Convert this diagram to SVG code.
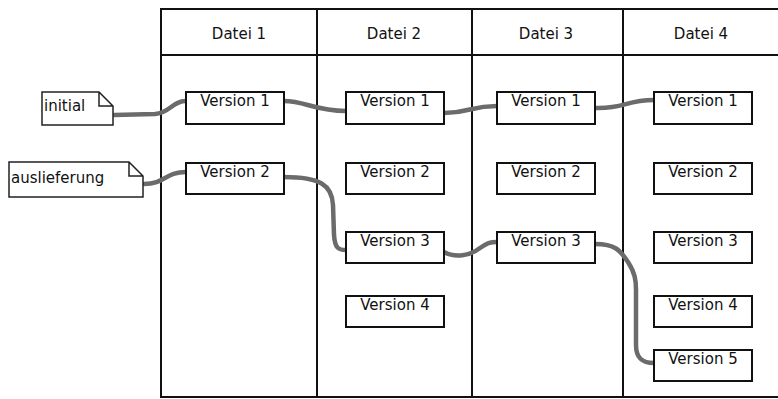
<svg xmlns="http://www.w3.org/2000/svg" width="778" height="399" viewBox="0 0 778 399">
<style>
.grid{fill:none;stroke:#111;stroke-width:2}
.box{fill:#fff;stroke:#111;stroke-width:2}
.note{fill:#fff;stroke:#222;stroke-width:1.5;stroke-linejoin:miter}
.t{font-family:"DejaVu Sans",sans-serif;font-size:15px;fill:#111}
.c{text-anchor:middle}
.conn{fill:none;stroke:#6b6b6b;stroke-width:4.5;stroke-linecap:round}
</style>
<rect width="778" height="399" fill="#fff"/>
<g id="table">
<path class="grid" d="M780,9 H161 V397 H780 M161,55 H780 M317,9 V397 M472,9 V397 M623,9 V397"/>
<text class="t c" x="239" y="39">Datei 1</text>
<text class="t c" x="394" y="39">Datei 2</text>
<text class="t c" x="546" y="39">Datei 3</text>
<text class="t c" x="701" y="39">Datei 4</text>
</g>
<g id="connectors">
<path class="conn" d="M114,115 L155,114 C170,113 172,101 186,101"/>
<path class="conn" d="M284,101 C305,101 315,111 346,111"/>
<path class="conn" d="M444,113 C470,113 470,106 497,106"/>
<path class="conn" d="M595,108 C625,109 625,100 654,100"/>
<path class="conn" d="M144,184 C165,184 165,172 186,172"/>
<path class="conn" d="M284,177 C320,177 332,185 333,205 L334,235 C335,248 338,250 346,250"/>
<path class="conn" d="M444,252 C455,258 470,256 480,248 C487,243 490,242 497,242"/>
<path class="conn" d="M595,244 C615,244 620,250 628,262 C635,273 636,280 636,290 L636,345 C636,358 642,363 654,363"/>
</g>
<g id="note-initial">
<path class="note" d="M42,92 H99 L113,106 V125 H42 Z M99,92 V106 H113"/>
<text class="t" x="44" y="111">initial</text>
</g>
<g id="note-auslieferung">
<path class="note" d="M9,162 H129 L143,176 V197 H9 Z M129,162 V176 H143"/>
<text class="t" x="11" y="183">auslieferung</text>
</g>
<g id="d1v1"><rect class="box" x="186" y="92" width="98" height="32"/><text class="t c" x="235" y="105.5">Version 1</text></g>
<g id="d1v2"><rect class="box" x="186" y="163" width="98" height="31"/><text class="t c" x="235" y="176.5">Version 2</text></g>
<g id="d2v1"><rect class="box" x="346" y="92" width="98" height="32"/><text class="t c" x="395" y="105.5">Version 1</text></g>
<g id="d2v2"><rect class="box" x="346" y="163" width="98" height="31"/><text class="t c" x="395" y="176.5">Version 2</text></g>
<g id="d2v3"><rect class="box" x="346" y="232" width="98" height="31"/><text class="t c" x="395" y="245.5">Version 3</text></g>
<g id="d2v4"><rect class="box" x="346" y="296" width="98" height="31"/><text class="t c" x="395" y="309.5">Version 4</text></g>
<g id="d3v1"><rect class="box" x="497" y="92" width="98" height="32"/><text class="t c" x="546" y="105.5">Version 1</text></g>
<g id="d3v2"><rect class="box" x="497" y="163" width="98" height="31"/><text class="t c" x="546" y="176.5">Version 2</text></g>
<g id="d3v3"><rect class="box" x="497" y="232" width="98" height="31"/><text class="t c" x="546" y="245.5">Version 3</text></g>
<g id="d4v1"><rect class="box" x="654" y="92" width="98" height="32"/><text class="t c" x="703" y="105.5">Version 1</text></g>
<g id="d4v2"><rect class="box" x="654" y="163" width="98" height="31"/><text class="t c" x="703" y="176.5">Version 2</text></g>
<g id="d4v3"><rect class="box" x="654" y="232" width="98" height="31"/><text class="t c" x="703" y="245.5">Version 3</text></g>
<g id="d4v4"><rect class="box" x="654" y="296" width="98" height="31"/><text class="t c" x="703" y="309.5">Version 4</text></g>
<g id="d4v5"><rect class="box" x="654" y="350" width="98" height="31"/><text class="t c" x="703" y="363.5">Version 5</text></g>
</svg>
